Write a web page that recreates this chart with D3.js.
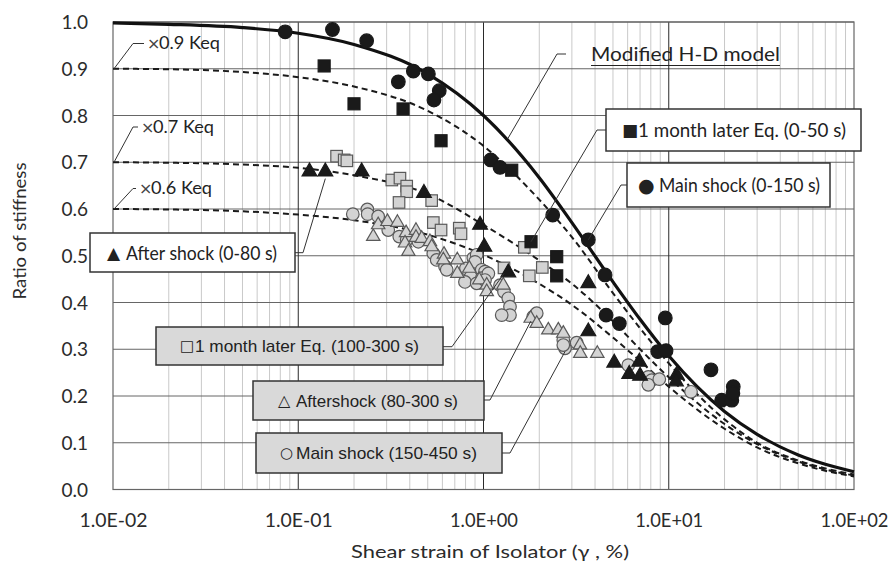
<!DOCTYPE html>
<html>
<head>
<meta charset="utf-8">
<script src="https://cdn.jsdelivr.net/npm/d3@7"></script>
<style>
  body { margin: 0; background: #fff; }
  svg { display: block; }
</style>
</head>
<body>
<svg id="chart" width="893" height="563"></svg>
<script>
// ---- Axis ticks ----
const strainTicks = [0.01, 0.1, 1, 10, 100];
const strainTickLabels = ["1.0E-02", "1.0E-01", "1.0E+00", "1.0E+01", "1.0E+02"];
const ratioTicks = [0, 0.1, 0.2, 0.3, 0.4, 0.5, 0.6, 0.7, 0.8, 0.9, 1.0];
const ratioTickLabels = ["0.0", "0.1", "0.2", "0.3", "0.4", "0.5", "0.6", "0.7", "0.8", "0.9", "1.0"];

// ---- Stiffness curves sampled along shear strain (%) ----
const curveStrain = [0.01, 0.02, 0.05, 0.1, 0.2, 0.5, 1, 2, 3, 5, 7, 10, 20, 30, 50, 70, 100];
const hdModel     = [0.998, 0.995, 0.988, 0.976, 0.952, 0.889, 0.800, 0.667, 0.571, 0.444, 0.364, 0.286, 0.167, 0.118, 0.074, 0.054, 0.038];
const keq09       = [0.900, 0.899, 0.893, 0.882, 0.862, 0.810, 0.735, 0.620, 0.540, 0.420, 0.345, 0.270, 0.150, 0.100, 0.062, 0.045, 0.032];
const keq07       = [0.700, 0.699, 0.695, 0.688, 0.672, 0.632, 0.566, 0.490, 0.440, 0.360, 0.300, 0.240, 0.140, 0.097, 0.060, 0.043, 0.030];
const keq06       = [0.600, 0.599, 0.595, 0.588, 0.576, 0.545, 0.502, 0.440, 0.395, 0.325, 0.275, 0.220, 0.130, 0.090, 0.056, 0.040, 0.028];

// ---- Measured points: strain (%) and stiffness ratio ----
// Main shock (0-150 s)
const mainEarlyStrain = [0.085, 0.153, 0.234, 0.347, 0.418, 0.504, 0.577, 0.540, 1.094, 1.228, 2.364, 3.68, 4.53, 4.59, 5.41, 9.58, 8.72, 9.67, 16.9, 22.3, 19.3, 21.9, 22.2];
const mainEarlyRatio  = [0.979, 0.984, 0.960, 0.872, 0.895, 0.889, 0.853, 0.833, 0.705, 0.689, 0.587, 0.534, 0.459, 0.373, 0.355, 0.367, 0.295, 0.297, 0.256, 0.220, 0.191, 0.191, 0.206];
// 1 month later Eq. (0-50 s)
const monthEarlyStrain = [0.138, 0.200, 0.368, 0.590, 1.42, 1.805, 2.484, 2.484];
const monthEarlyRatio  = [0.906, 0.825, 0.814, 0.746, 0.683, 0.530, 0.498, 0.457];
// After shock (0-80 s)
const afterEarlyStrain = [0.115, 0.140, 0.220, 0.477, 0.958, 1.01, 1.361, 3.68, 3.68, 5.08, 6.94, 6.12, 7.00, 11.04, 10.94];
const afterEarlyRatio  = [0.680, 0.680, 0.680, 0.634, 0.566, 0.519, 0.464, 0.441, 0.338, 0.271, 0.273, 0.247, 0.243, 0.245, 0.231];
// 1 month later Eq. (100-300 s)
const monthLateStrain = [0.161, 0.177, 0.183, 0.320, 0.354, 0.385, 0.385, 0.350, 0.525, 0.536, 0.590, 0.740, 0.756, 1.661, 2.077, 1.767, 1.29];
const monthLateRatio  = [0.713, 0.705, 0.703, 0.662, 0.666, 0.649, 0.637, 0.614, 0.618, 0.571, 0.555, 0.559, 0.547, 0.518, 0.475, 0.457, 0.474];
// Aftershock (80-300 s)
const afterLateStrain = [0.254, 0.270, 0.303, 0.343, 0.382, 0.377, 0.393, 0.432, 0.432, 0.464, 0.514, 0.525, 0.612, 0.607, 0.722, 0.722, 0.838, 0.949, 1.041, 1.041, 1.279, 1.798, 1.938, 2.238, 2.534, 3.318, 3.33, 4.115, 2.696];
const afterLateRatio  = [0.541, 0.566, 0.573, 0.571, 0.549, 0.527, 0.509, 0.554, 0.539, 0.537, 0.530, 0.519, 0.503, 0.491, 0.491, 0.462, 0.473, 0.448, 0.437, 0.423, 0.437, 0.366, 0.355, 0.341, 0.341, 0.309, 0.291, 0.291, 0.334];
// Main shock (150-450 s)
const mainLateStrain = [0.197, 0.236, 0.237, 0.270, 0.306, 0.351, 0.385, 0.445, 0.536, 0.559, 0.620, 0.633, 0.804, 0.853, 0.794, 0.881, 0.919, 0.900, 0.978, 1.019, 0.978, 0.919, 1.062, 1.019, 1.228, 1.290, 1.361, 1.390, 1.390, 1.254, 1.857, 1.938, 2.696, 2.754, 3.185, 2.696, 6.048, 7.757, 8.09, 7.757, 8.89, 13.19];
const mainLateRatio  = [0.589, 0.599, 0.589, 0.584, 0.555, 0.541, 0.534, 0.530, 0.505, 0.491, 0.477, 0.470, 0.473, 0.455, 0.444, 0.495, 0.502, 0.487, 0.470, 0.466, 0.452, 0.441, 0.462, 0.448, 0.437, 0.423, 0.409, 0.391, 0.373, 0.373, 0.370, 0.377, 0.320, 0.302, 0.314, 0.309, 0.266, 0.241, 0.234, 0.224, 0.236, 0.209];

// ---- Chart frame ----
const plot = { left: 113, right: 854, top: 22, bottom: 489.5 };
const svg = d3.select("#chart");

const x = d3.scaleLog().domain([0.01, 100]).range([plot.left, plot.right]);
const y = d3.scaleLinear().domain([0, 1]).range([plot.bottom, plot.top]);

const numFont = "Lato, 'Open Sans', sans-serif";
const boxFont = "'Liberation Sans', Arial, sans-serif";
const symFont = "'DejaVu Sans', sans-serif";

// Minor vertical gridlines
const minor = [];
for (let e = -2; e < 2; e++) for (let m = 2; m <= 9; m++) minor.push(m * Math.pow(10, e));
svg.append("g").selectAll("line").data(minor).join("line")
  .attr("x1", d => x(d)).attr("x2", d => x(d))
  .attr("y1", plot.top).attr("y2", plot.bottom)
  .attr("stroke", "#c9c9c9").attr("stroke-width", 1);

// Horizontal gridlines
svg.append("g").selectAll("line").data(ratioTicks.slice(1)).join("line")
  .attr("x1", plot.left).attr("x2", plot.right)
  .attr("y1", d => y(d)).attr("y2", d => y(d))
  .attr("stroke", "#666").attr("stroke-width", 1);

// Major vertical gridlines
svg.append("g").selectAll("line").data(strainTicks.slice(1, -1)).join("line")
  .attr("x1", d => x(d)).attr("x2", d => x(d))
  .attr("y1", plot.top).attr("y2", plot.bottom)
  .attr("stroke", "#2a2a2a").attr("stroke-width", 1);

// Plot border
svg.append("rect")
  .attr("x", plot.left).attr("y", plot.top)
  .attr("width", plot.right - plot.left).attr("height", plot.bottom - plot.top)
  .attr("fill", "none").attr("stroke", "#666").attr("stroke-width", 1.2);

// Axes (labels only, the frame is drawn above)
const xAxis = d3.axisBottom(x).tickValues(strainTicks)
  .tickFormat((d, i) => strainTickLabels[i]).tickSize(0).tickPadding(0);
const gx = svg.append("g").attr("transform", `translate(0,${plot.bottom})`).call(xAxis);
gx.select(".domain").remove();
gx.selectAll("text").attr("dy", null).attr("y", 37)
  .attr("font-family", numFont).attr("font-size", 19).attr("fill", "#2b2b2b")
  .attr("textLength", 68).attr("lengthAdjust", "spacingAndGlyphs");

const yAxis = d3.axisLeft(y).tickValues(ratioTicks)
  .tickFormat((d, i) => ratioTickLabels[i]).tickSize(0).tickPadding(0);
const gy = svg.append("g").attr("transform", `translate(${plot.left - 25},0)`).call(yAxis);
gy.select(".domain").remove();
gy.selectAll("text").attr("x", 0).attr("dy", "0.35em")
  .attr("font-family", numFont).attr("font-size", 19).attr("fill", "#2b2b2b");

// Axis titles
svg.append("text")
  .attr("x", 490).attr("y", 558)
  .attr("text-anchor", "middle")
  .attr("font-family", numFont).attr("font-size", 18).attr("fill", "#2b2b2b")
  .attr("textLength", 278).attr("lengthAdjust", "spacingAndGlyphs")
  .text("Shear strain of Isolator (γ , %)");

svg.append("text")
  .attr("transform", "translate(26,231) rotate(-90)")
  .attr("text-anchor", "middle")
  .attr("font-family", numFont).attr("font-size", 18).attr("fill", "#2b2b2b")
  .attr("textLength", 137).attr("lengthAdjust", "spacingAndGlyphs")
  .text("Ratio of stiffness");

// ---- Curves ----
const line = d3.line()
  .x((d, i) => x(curveStrain[i]))
  .y(d => y(d))
  .curve(d3.curveMonotoneX);

[keq09, keq07, keq06].forEach(c => {
  svg.append("path").datum(c).attr("d", line)
    .attr("fill", "none").attr("stroke", "#1a1a1a")
    .attr("stroke-width", 2).attr("stroke-dasharray", "6,4");
});
svg.append("path").datum(hdModel).attr("d", line)
  .attr("fill", "none").attr("stroke", "#111").attr("stroke-width", 3.2);

// ---- Markers ----
const pts = (sx, sy) => sx.map((s, i) => [s, sy[i]]);
const grayFill = "#d3d3d3", grayStroke = "#5a5a5a", dark = "#1a1a1a";

function circles(data, r, fill, stroke) {
  svg.append("g").selectAll("circle").data(data).join("circle")
    .attr("cx", d => x(d[0])).attr("cy", d => y(d[1])).attr("r", r)
    .attr("fill", fill).attr("stroke", stroke).attr("stroke-width", 1.2);
}
function squares(data, s, fill, stroke) {
  svg.append("g").selectAll("rect").data(data).join("rect")
    .attr("x", d => x(d[0]) - s / 2).attr("y", d => y(d[1]) - s / 2)
    .attr("width", s).attr("height", s)
    .attr("fill", fill).attr("stroke", stroke).attr("stroke-width", 1.2);
}
function triangles(data, s, fill, stroke) {
  const sym = d3.symbol().type(d3.symbolTriangle).size(s);
  svg.append("g").selectAll("path").data(data).join("path")
    .attr("transform", d => `translate(${x(d[0])},${y(d[1])})`)
    .attr("d", sym)
    .attr("fill", fill).attr("stroke", stroke).attr("stroke-width", 1.2);
}

circles(pts(mainLateStrain, mainLateRatio), 6.3, grayFill, grayStroke);
triangles(pts(afterLateStrain, afterLateRatio), 78, grayFill, grayStroke);
squares(pts(monthLateStrain, monthLateRatio), 11.5, grayFill, grayStroke);
triangles(pts(afterEarlyStrain, afterEarlyRatio), 95, dark, dark);
squares(pts(monthEarlyStrain, monthEarlyRatio), 12, dark, dark);
circles(pts(mainEarlyStrain, mainEarlyRatio), 6.8, dark, dark);

// ---- Annotations ----
const leader = (p) => svg.append("polyline")
  .attr("points", p.map(q => q.join(",")).join(" "))
  .attr("fill", "none").attr("stroke", "#333").attr("stroke-width", 1);

// Keq multiplier labels
const keqLabels = [
  { mult: "0.9", ratio: 0.9, ty: 43.5, tx: 147 },
  { mult: "0.7", ratio: 0.7, ty: 127, tx: 141 },
  { mult: "0.6", ratio: 0.6, ty: 188.5, tx: 139 }
];
keqLabels.forEach(k => {
  leader([[x(0.01) + 1, y(k.ratio)], [x(0.01) + 20, k.ty], [k.tx - 3, k.ty]]);
  svg.append("text").attr("x", k.tx).attr("y", k.ty).attr("dy", "0.35em")
    .attr("font-family", symFont).attr("font-size", 16).attr("fill", "#444")
    .text("×");
  svg.append("text").attr("x", k.tx + 12).attr("y", k.ty).attr("dy", "0.35em")
    .attr("font-family", numFont).attr("font-size", 17).attr("fill", "#222")
    .attr("textLength", 61).attr("lengthAdjust", "spacingAndGlyphs")
    .text(`${k.mult} Keq`);
});

// Model label
leader([[566, 54], [557, 54], [x(1.35), y(0.75)]]);
svg.append("text").attr("x", 591).attr("y", 61)
  .attr("font-family", numFont).attr("font-size", 20).attr("fill", "#222")
  .attr("textLength", 189).attr("lengthAdjust", "spacingAndGlyphs")
  .text("Modified H-D model");
svg.append("line").attr("x1", 591).attr("x2", 780).attr("y1", 65.5).attr("y2", 65.5)
  .attr("stroke", "#222").attr("stroke-width", 1.2);

// Legend boxes with leader lines
const boxes = [
  { sym: "■", text: "1 month later Eq. (0-50 s)", x0: 606, y0: 109, w: 255, h: 42, sx: 622, ss: 17, tx: 638, tw: 208, fill: "#fff", font: numFont, fs: 20,
    lead: [[606, 130], [597, 130], [x(1.805), y(0.53)]] },
  { sym: "●", text: "Main shock (0-150 s)", x0: 627, y0: 163, w: 203, h: 44, sx: 638, ss: 19, tx: 659, tw: 161, fill: "#fff", font: numFont, fs: 20,
    lead: [[627, 185], [621, 185], [x(3.68), y(0.534)]] },
  { sym: "▲", text: "After shock (0-80 s)", x0: 90, y0: 233, w: 205, h: 39, sx: 107, ss: 17, tx: 126, tw: 151, fill: "#fff", font: numFont, fs: 20,
    lead: [[295, 252.7], [303, 252.7], [x(0.14), y(0.665)]] },
  { sym: "□", text: "1 month later  Eq. (100-300  s)", x0: 156, y0: 327, w: 287, h: 38, sx: 180, ss: 15, tx: 195, tw: 224, fill: "#d9d9d9", font: boxFont, fs: 17,
    lead: [[443, 346.7], [452, 346.7], [x(1.29), y(0.462)]] },
  { sym: "△", text: "Aftershock  (80-300  s)", x0: 253, y0: 381, w: 231, h: 39, sx: 278, ss: 16, tx: 296, tw: 162, fill: "#d9d9d9", font: boxFont, fs: 17,
    lead: [[484, 400], [490, 400], [x(1.8), y(0.36)]] },
  { sym: "○", text: "Main  shock (150-450  s)", x0: 256, y0: 433, w: 246, h: 40, sx: 280, ss: 15, tx: 296, tw: 181, fill: "#d9d9d9", font: boxFont, fs: 17,
    lead: [[502, 453], [510, 453], [x(2.754), y(0.295)]] }
];
boxes.forEach(b => {
  leader(b.lead);
  svg.append("rect").attr("x", b.x0).attr("y", b.y0).attr("width", b.w).attr("height", b.h)
    .attr("fill", b.fill).attr("stroke", "#333").attr("stroke-width", 1.5);
  svg.append("text").attr("x", b.sx).attr("y", b.y0 + b.h / 2).attr("dy", "0.36em")
    .attr("font-family", symFont).attr("font-size", b.ss).attr("fill", "#222")
    .text(b.sym);
  svg.append("text").attr("x", b.tx).attr("y", b.y0 + b.h / 2).attr("dy", "0.36em")
    .attr("font-family", b.font).attr("font-size", b.fs).attr("fill", "#222")
    .attr("textLength", b.tw).attr("lengthAdjust", "spacingAndGlyphs")
    .text(b.text);
});
</script>
</body>
</html>
